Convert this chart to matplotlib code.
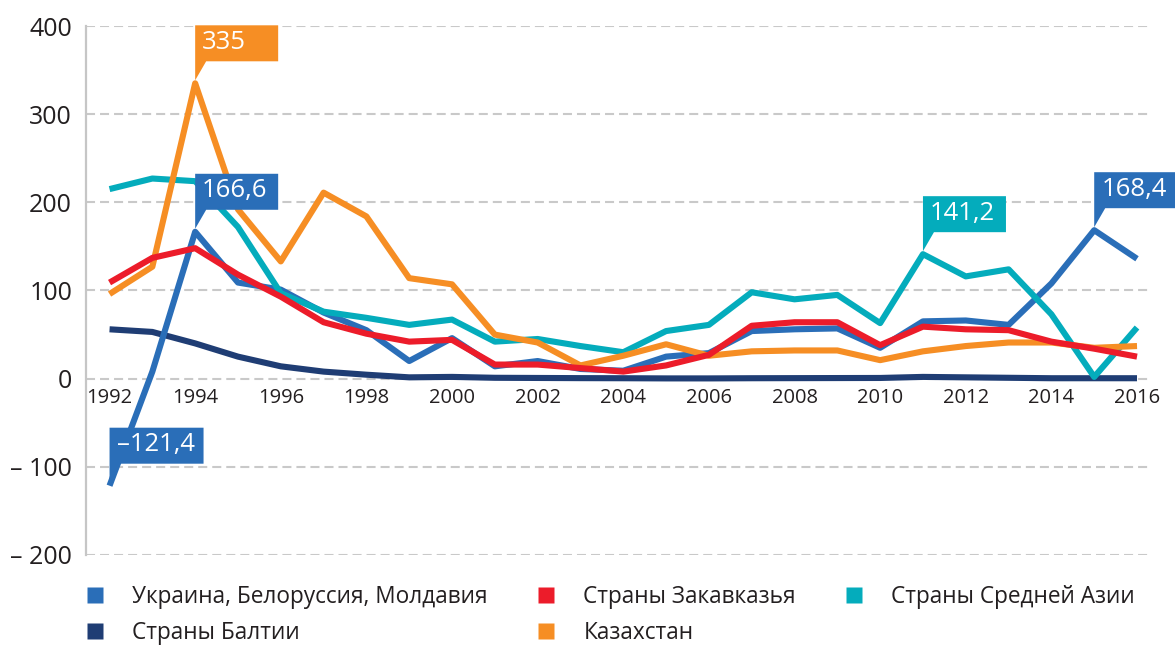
import numpy as np
import matplotlib
matplotlib.use("Agg")
import matplotlib.pyplot as plt
import matplotlib.transforms as mtrans
from matplotlib.patches import Polygon
from matplotlib.lines import Line2D

plt.rcParams['font.family'] = ['Open Sans', 'DejaVu Sans']
plt.rcParams['lines.scale_dashes'] = False

# ---------------- data ----------------
years = list(range(1992, 2017))
ukraine = [-121.4, 8, 166.6, 109, 101, 75, 55, 20, 46, 14, 20, 11, 9, 25, 29,
           54, 56, 57, 35, 65, 66, 61, 108, 168.4, 136]
zakavkaz = [109, 137, 148, 118, 93, 64, 51, 42, 44, 16, 16, 12, 8, 15, 27,
            60, 64, 64, 38, 59, 56, 55, 42, 34, 25]
sr_azia = [215, 227, 224, 172, 97, 76, 69, 61, 67, 42, 45, 37, 30, 54, 61,
           98, 90, 95, 63, 141.2, 116, 124, 73, 2, 58]
baltic = [56, 53, 40, 25, 14, 8, 4.5, 1.5, 2, 1, 0.8, 0.6, 0.5, 0.3, 0.3,
          0.5, 0.6, 0.7, 0.8, 2, 1.5, 1, 0.5, 0.5, 0.5]
kazakh = [96, 127, 335, 192, 133, 211, 184, 114, 107, 50, 41, 15, 26, 39, 26,
          31, 32, 32, 21, 31, 37, 41, 41, 35, 37]

names = {
    'ukraine': 'Украина, Белоруссия, Молдавия',
    'zakavkaz': 'Страны Закавказья',
    'sr_azia': 'Страны Средней Азии',
    'baltic': 'Страны Балтии',
    'kazakh': 'Казахстан',
}
xtick_years = list(range(1992, 2017, 2))
ytick_vals = [-200, -100, 0, 100, 200, 300, 400]
ytick_labels = ['– 200', '– 100', '0', '100', '200', '300', '400']

# callouts: (series key, year, label)
callouts = [
    ('ukraine', 1992, '–121,4'),
    ('kazakh', 1994, '335'),
    ('ukraine', 1994, '166,6'),
    ('sr_azia', 2011, '141,2'),
    ('ukraine', 2015, '168,4'),
]

# ---------------- style ----------------
colors = {
    'ukraine': '#2a6eb8',
    'zakavkaz': '#ec1c2a',
    'sr_azia': '#04acbc',
    'baltic': '#1f3d74',
    'kazakh': '#f68e24',
}
series = {'ukraine': ukraine, 'zakavkaz': zakavkaz, 'sr_azia': sr_azia,
          'baltic': baltic, 'kazakh': kazakh}

W, H, DPI = 1175, 645, 100
fig = plt.figure(figsize=(W / DPI, H / DPI), dpi=DPI)
ax = fig.add_axes([86 / W, 1 - 555 / H, (1152 - 86) / W, (555 - 26) / H])
ax.set_xlim(1991.45, 2016.35)
ax.set_ylim(-200, 400)

for s in ['top', 'right']:
    ax.spines[s].set_visible(False)
ax.spines['bottom'].set_position(('data', 0))
ax.spines['bottom'].set_visible(False)
ax.spines['left'].set_color('#c6c6c6')
ax.spines['left'].set_linewidth(1.6)

ax.set_yticks(ytick_vals)
ax.set_yticklabels(ytick_labels, fontsize=18, color='#231f20')
ax.tick_params(axis='y', length=0, pad=10)
ax.set_xticks(xtick_years)
ax.set_xticklabels([str(y) for y in xtick_years], fontsize=14.5, color='#231f20')
ax.tick_params(axis='x', length=0, pad=7)

ax.grid(axis='y', color='#c9c9c9', linewidth=1.5, linestyle=(0, (6.5, 3.6)))
ax.set_axisbelow(True)

order = ['baltic', 'ukraine', 'sr_azia', 'kazakh', 'zakavkaz']
for z, key in enumerate(order):
    ax.plot(years, series[key], color=colors[key], linewidth=4.4,
            solid_capstyle='butt', solid_joinstyle='round', zorder=3 + z)

# callouts
fig.canvas.draw()
renderer = fig.canvas.get_renderer()
g, h, tip, pw = 22, 36, 3, 11
for key, yr, lab in callouts:
    val = series[key][years.index(yr)]
    trans = fig.dpi_scale_trans + mtrans.ScaledTranslation(yr, val, ax.transData)
    t = ax.text(7 / DPI, (g + h / 2 + 1) / DPI, lab, transform=trans,
                color='white', fontsize=18.5, ha='left', va='center', zorder=20)
    tw = t.get_window_extent(renderer).width
    bw = max(83, tw + 16)
    poly = Polygon(np.array([[0, tip], [pw, g], [bw, g], [bw, g + h],
                             [0, g + h]]) / DPI,
                   closed=True, transform=trans, facecolor=colors[key],
                   edgecolor='none', zorder=19, clip_on=False)
    ax.add_patch(poly)

# legend
leg_order = ['ukraine', 'baltic', 'zakavkaz', 'kazakh', 'sr_azia']
handles = [Line2D([], [], linestyle='none', marker='s', markersize=11.5,
                  markerfacecolor=colors[k], markeredgecolor='none')
           for k in leg_order]
leg = fig.legend(handles, [names[k] for k in leg_order], ncol=3,
                 loc='upper left', bbox_to_anchor=(84 / W, 1 - 585 / H),
                 frameon=False, fontsize=16.3, handlelength=1.0,
                 handletextpad=1.14, columnspacing=2.07, labelspacing=0.52,
                 borderaxespad=0, borderpad=0)
for t in leg.get_texts():
    t.set_color('#231f20')

fig.savefig('out.png', dpi=DPI)
